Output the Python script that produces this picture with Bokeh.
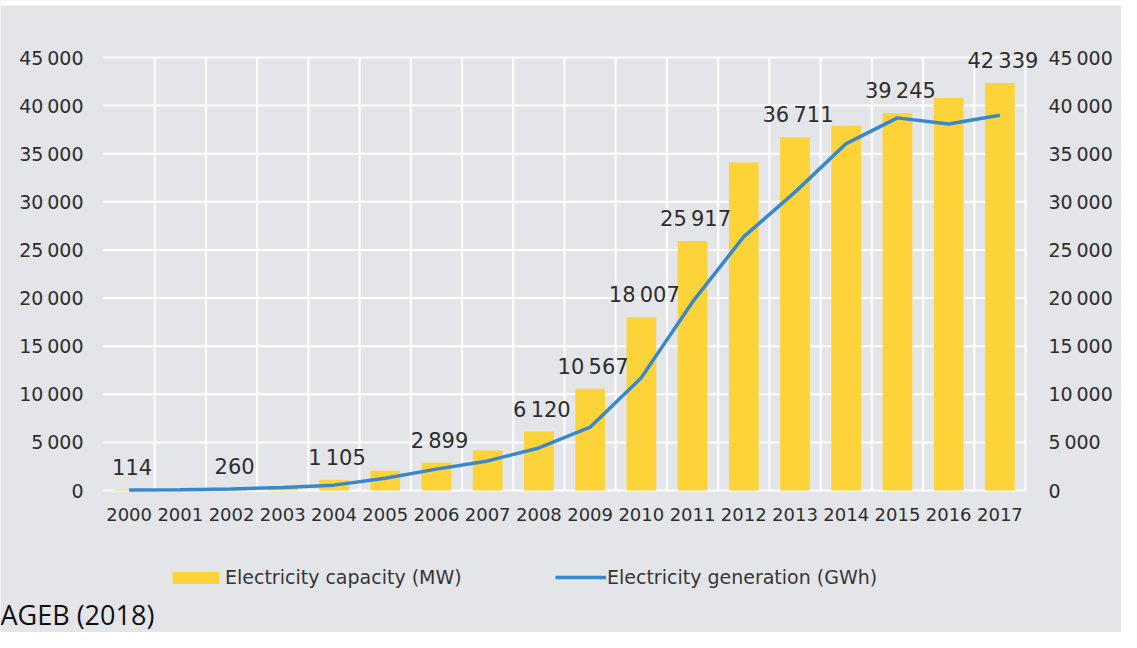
from bokeh.plotting import figure
from bokeh.models import (Range1d, LinearAxis, FixedTicker, Legend, LegendItem,
                          Label, ColumnDataSource, BoxAnnotation)
from bokeh.core.properties import value
from bokeh.embed import file_html
from bokeh.resources import INLINE

# ---------------- data ----------------
years = [str(y) for y in range(2000, 2018)]
capacity_mw = [114, 176, 260, 435, 1105, 2056, 2899, 4170, 6120, 10567,
               18007, 25917, 34077, 36711, 37900, 39245, 40800, 42339]
generation_gwh = [60, 76, 162, 313, 557, 1282, 2220, 3075, 4420, 6583,
                  11729, 19599, 26380, 31010, 36056, 38726, 38098, 39000]
labelled_years = ["2000", "2002", "2004", "2006", "2008", "2009", "2010",
                  "2011", "2013", "2015", "2017"]
y_ticks = [0, 5000, 10000, 15000, 20000, 25000, 30000, 35000, 40000, 45000]
cap_label = "Electricity capacity (MW)"
gen_label = "Electricity generation (GWh)"
source_note = "AGEB (2018)"


def fmt(v):
    return f"{v:,}".replace(",", "\u2009")


BG = "#E4E5E9"
BAR = "#FCD43A"
LINE = "#3A88CC"
TXT = "#2E2E2E"
FONT = "DejaVu Sans"

W, H = 1121, 632
n = len(years)
xpos = list(range(n))
# plot box (pixels): left 103, right 1025, y=0 at 490, y=45000 at 57
px_per_x = (1025 - 103) / n
px_per_y = (490 - 57) / y_ticks[-1]
x_start = -0.5 - 103 / px_per_x
x_end = x_start + W / px_per_x
y_start = -(H - 490) / px_per_y
y_end = y_start + H / px_per_y

p = figure(width=W, height=H, x_range=Range1d(x_start, x_end),
           y_range=Range1d(y_start, y_end), output_backend="svg",
           toolbar_location=None, x_axis_location=None, y_axis_location=None,
           min_border=0, min_border_left=0, min_border_right=0,
           min_border_top=0, min_border_bottom=0)
p.background_fill_color = BG
p.border_fill_color = BG
p.outline_line_color = None
p.grid.visible = False

# thin white strip along the top edge
p.add_layout(BoxAnnotation(bottom=H - 5, bottom_units="screen",
                           fill_color="white", fill_alpha=1, line_color=None,
                           level="underlay"))

# grid lines (white) built from the tick lists
hsrc = ColumnDataSource(dict(x0=[xpos[0] - 0.5] * len(y_ticks),
                             x1=[xpos[-1] + 0.5] * len(y_ticks), y=y_ticks))
p.segment(x0="x0", y0="y", x1="x1", y1="y", line_color="white",
          line_width=2, source=hsrc, level="underlay")
vsrc = ColumnDataSource(dict(x=[x + 0.5 for x in xpos],
                             y0=[y_ticks[0]] * n, y1=[y_ticks[-1]] * n))
p.segment(x0="x", y0="y0", x1="x", y1="y1", line_color="white",
          line_width=2, source=vsrc, level="underlay")

# bars and line
src = ColumnDataSource(dict(x=xpos, cap=capacity_mw, gen=generation_gwh))
bars = p.vbar(x="x", top="cap", width=0.58, fill_color=BAR, line_color=None,
              source=src)
line = p.line(x="x", y="gen", line_color=LINE, line_width=3.5, source=src)

# data labels
lab_x = [years.index(y) for y in labelled_years]
lab_vals = [capacity_mw[i] for i in lab_x]
lab_src = ColumnDataSource(dict(x=lab_x, y=lab_vals,
                                t=[fmt(v) for v in lab_vals]))
p.text(x="x", y="y", text="t", source=lab_src, x_offset=3, y_offset=-22,
       text_align="center", text_baseline="middle",
       text_font=value(FONT), text_font_size="21px", text_color=TXT)

# axes
overrides = {t: fmt(t) for t in y_ticks}
axis_style = dict(axis_line_color=None, major_tick_line_color=None,
                  minor_tick_line_color=None, major_tick_out=0,
                  major_tick_in=0, minor_tick_out=0, minor_tick_in=0,
                  major_label_text_font=FONT, major_label_text_color=TXT)
lax = LinearAxis(fixed_location=xpos[0] - 0.5, ticker=FixedTicker(ticks=y_ticks),
                 major_label_overrides=overrides, major_label_standoff=20,
                 major_label_text_font_size="19px", **axis_style)
p.add_layout(lax, "left")
rax = LinearAxis(fixed_location=xpos[-1] + 0.5, ticker=FixedTicker(ticks=y_ticks),
                 major_label_overrides=overrides, major_label_standoff=23,
                 major_label_text_font_size="19px", **axis_style)
p.add_layout(rax, "right")
bax = LinearAxis(fixed_location=y_ticks[0], ticker=FixedTicker(ticks=xpos),
                 major_label_overrides=dict(zip(xpos, years)),
                 major_label_standoff=17, major_label_text_font_size="18px",
                 **axis_style)
p.add_layout(bax, "below")

# legends
common = dict(orientation="horizontal", background_fill_alpha=0,
              border_line_color=None, padding=0, margin=0, spacing=0,
              label_text_font=FONT, label_text_font_size="19px",
              label_text_color="#363636", label_height=22)
leg1 = Legend(items=[LegendItem(label=cap_label, renderers=[bars])],
              location=(166, 44), glyph_width=59, glyph_height=15,
              label_standoff=0, **common)
leg2 = Legend(items=[LegendItem(label=gen_label, renderers=[line])],
              location=(555, 44), glyph_width=51, glyph_height=22,
              label_standoff=1, **common)
p.add_layout(leg1)
p.add_layout(leg2)

note = Label(x=0, y=18, x_units="screen", y_units="screen", text=source_note,
             text_font="Open Sans", text_font_size="27px",
             text_color="#111111", text_baseline="middle", text_align="left")
p.add_layout(note)

open("out.html", "w").write(file_html(p, INLINE))
